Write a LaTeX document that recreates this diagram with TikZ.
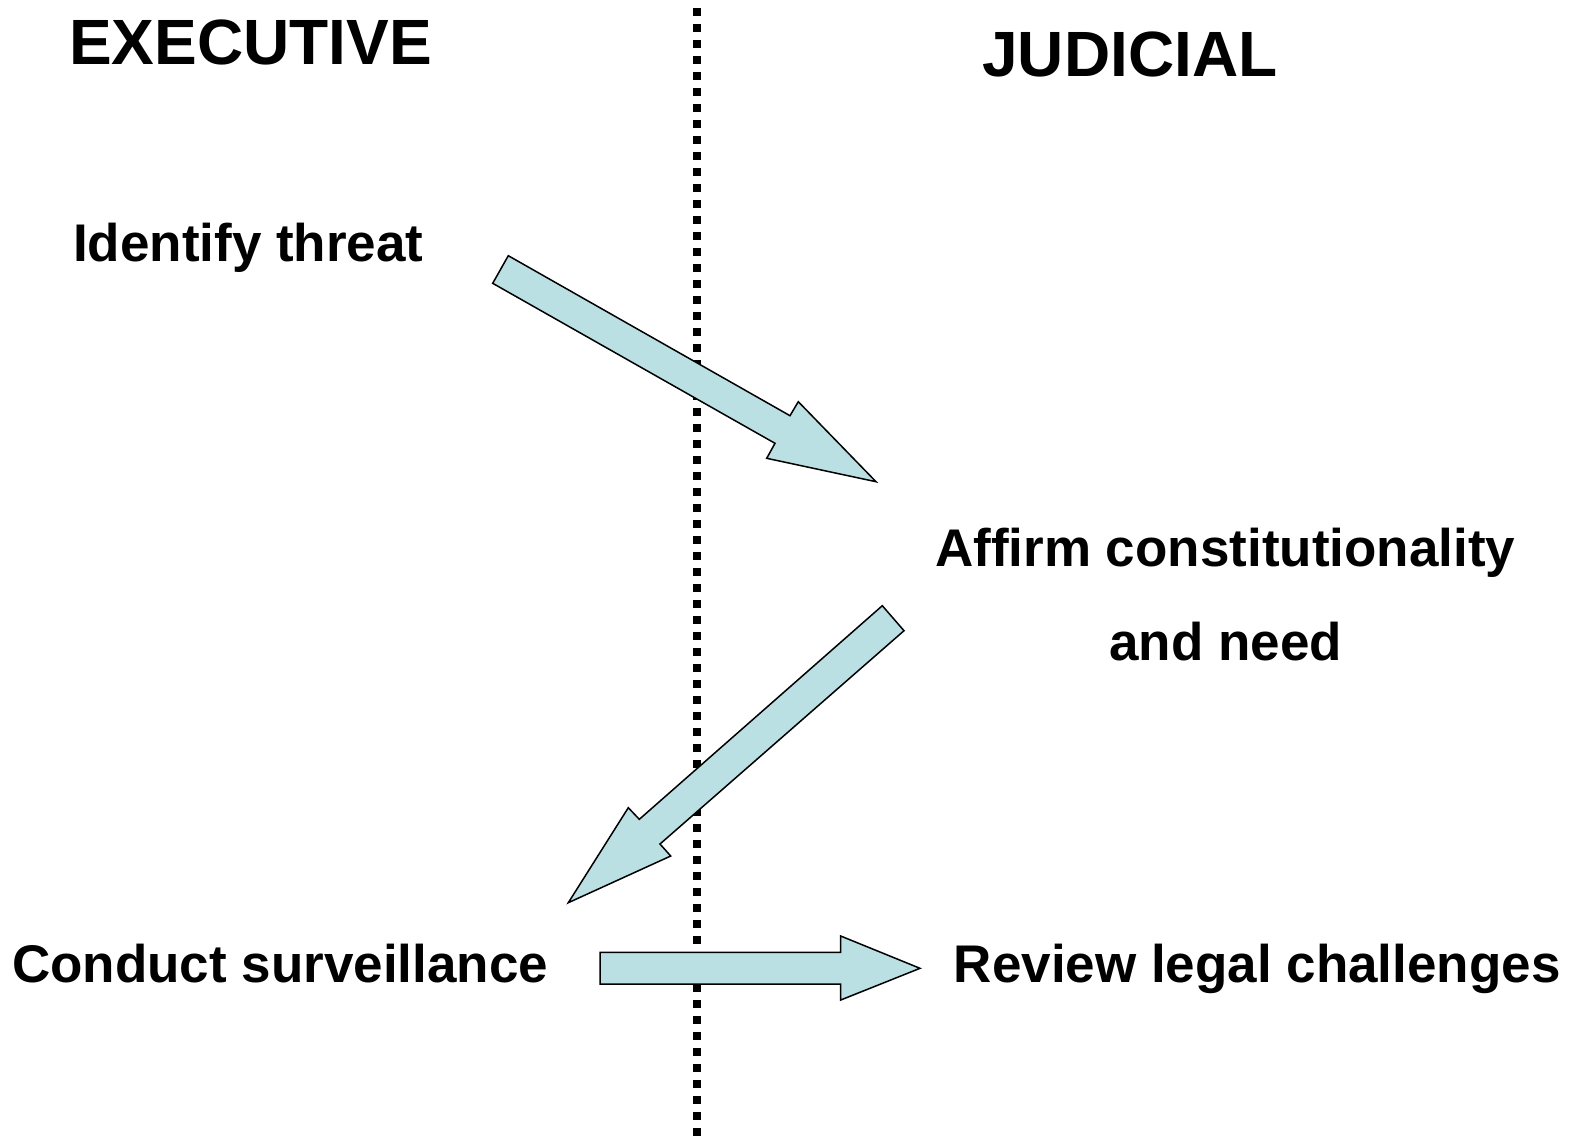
\documentclass[tikz,border=0pt]{standalone}
\usepackage{fontspec}
\setmainfont{Liberation Sans}
\definecolor{arrowfill}{RGB}{187,224,227}
\begin{document}
\begin{tikzpicture}[x=1pt,y=-1pt,
  head/.style={anchor=base west,inner sep=0pt,font=\fontsize{64}{64}\selectfont\bfseries},
  body/.style={anchor=base west,inner sep=0pt,font=\fontsize{53}{53}\selectfont\bfseries},
  blockarrow/.style={draw=black,fill=arrowfill,line width=1.5pt,line join=miter}]
\useasboundingbox (0,0) rectangle (1579,1136);
% divider
\coordinate (dtop) at (696.5,8.3);
\coordinate (dbot) at (696.5,1140);
\draw[line width=8pt,dash pattern=on 8pt off 8pt,line cap=butt] (dtop) -- (dbot);
% headings
\node[head] (exec) at (69,64.5) {EXECUTIVE};
\node[head] (jud) at (982,76) {JUDICIAL};
% steps
\node[body] (identify) at (73,261.7) {Identify threat};
\node[body] (affirm) at (935,566.7) {Affirm constitutionality};
\node[body] (need) at (1109.3,660) {and need};
\node[body] (conduct) at (12,982) {Conduct surveillance};
\node[body] (review) at (953.6,982) {Review legal challenges};
% arrows
\draw[blockarrow] (508.3,255.7) -- (790,415.7) -- (798.3,401.7) -- (876,481.7)
  -- (766.7,458.3) -- (775,443.3) -- (492.7,283.3) -- cycle;
\draw[blockarrow] (882.3,605.7) -- (639.3,819.3) -- (628.3,807.7) -- (568.3,902.7)
  -- (670.7,856) -- (660,844) -- (904,630.7) -- cycle;
\draw[blockarrow] (600,952.3) -- (840.7,952.3) -- (840.7,936) -- (920,968.3)
  -- (840.7,1000) -- (840.7,984) -- (600,984) -- cycle;
\end{tikzpicture}
\end{document}
